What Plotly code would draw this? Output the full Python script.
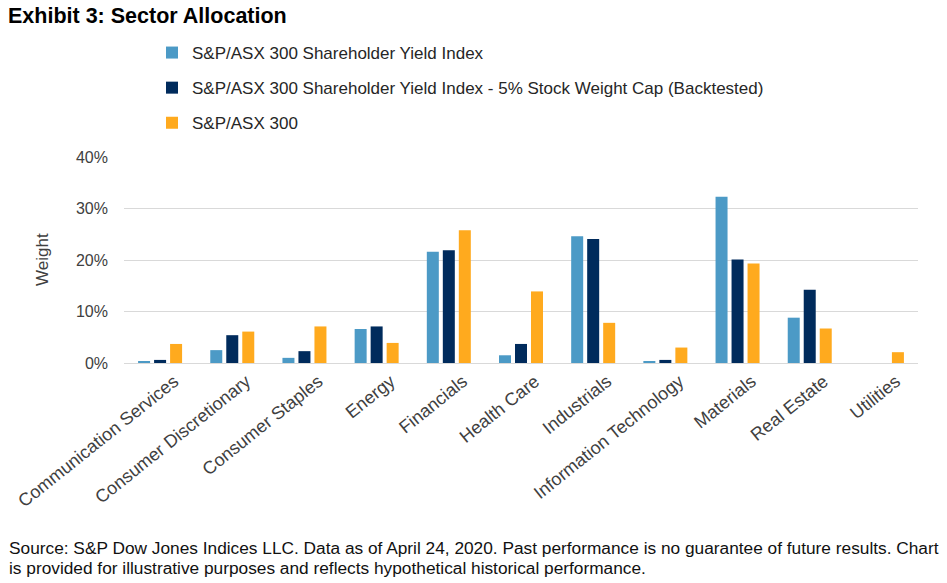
import plotly.graph_objects as go

categories = ["Communication Services", "Consumer Discretionary", "Consumer Staples",
              "Energy", "Financials", "Health Care", "Industrials",
              "Information Technology", "Materials", "Real Estate", "Utilities"]
shy_index = [0.3, 2.5, 1.0, 6.6, 21.6, 1.5, 24.6, 0.3, 32.3, 8.8, 0.0]
shy_capped = [0.6, 5.4, 2.3, 7.1, 21.9, 3.7, 24.1, 0.6, 20.1, 14.2, 0.0]
asx300 = [3.7, 6.1, 7.1, 3.9, 25.8, 13.9, 7.8, 3.0, 19.3, 6.7, 2.1]

series_names = ["S&P/ASX 300 Shareholder Yield Index",
                "S&P/ASX 300 Shareholder Yield Index - 5% Stock Weight Cap (Backtested)",
                "S&P/ASX 300"]
colors = ["#4C9AC6", "#002B5C", "#FFAA1E"]
y_ticks = [0, 10, 20, 30, 40]
y_tick_labels = ["0%", "10%", "20%", "30%", "40%"]

FONT = "Liberation Sans, Arial, sans-serif"
W, H = 947, 583
ML, MR, MT, MB = 124, 29, 157, 220
PW, PH = W - ML - MR, H - MT - MB

fig = go.Figure()
for i, (name, vals) in enumerate(zip(series_names, [shy_index, shy_capped, asx300])):
    fig.add_trace(go.Bar(x=categories, y=vals, name=name, marker_color=colors[i],
                         marker_line_width=0, legendgroup=f"g{i}"))

fig.update_layout(
    width=W, height=H,
    margin=dict(l=ML, r=MR, t=MT, b=MB, autoexpand=False),
    paper_bgcolor="white", plot_bgcolor="white",
    barmode="group", bargap=0.335, bargroupgap=0.25,
    font=dict(family=FONT, size=16, color="#404040"),
    title=dict(text="<b>Exhibit 3: Sector Allocation</b>", x=8 / W, xref="container", xanchor="left",
               y=1 - 15 / H, yref="container", yanchor="middle", pad=dict(l=0, r=0, t=0, b=0),
               font=dict(family=FONT, size=21.5, color="#000000")),
    showlegend=True,
    legend=dict(xref="container", yref="container", x=152 / W, y=1 - 35 / H,
                xanchor="left", yanchor="top", tracegroupgap=10,
                font=dict(family=FONT, size=17, color="#262626"),
                itemwidth=30, bgcolor="rgba(0,0,0,0)"),
    xaxis=dict(tickangle=-38.7, showgrid=False, showline=True, linecolor="#d9d9d9",
               ticks="", ticklabelshift=14, tickfont=dict(size=18, color="#404040")),
    yaxis=dict(range=[0, 40], tickvals=y_ticks, ticktext=y_tick_labels,
               showgrid=True, gridcolor="#d9d9d9", gridwidth=1, zeroline=False,
               ticks="", ticklabelstandoff=15, tickfont=dict(size=16, color="#404040")),
)

fig.add_annotation(text="Weight", xref="paper", yref="paper", x=(42 - ML) / PW,
                   y=0.5, textangle=-90, showarrow=False, xanchor="center", yanchor="middle",
                   font=dict(family=FONT, size=17, color="#404040"))
footer = ["Source: S&P Dow Jones Indices LLC. Data as of April 24, 2020. Past performance is no guarantee of future results. Chart",
          "is provided for illustrative purposes and reflects hypothetical historical performance."]
for k, line in enumerate(footer):
    fig.add_annotation(text=line, xref="paper", yref="paper",
                       x=(7 - ML) / PW, y=-(548 + 20 * k - (H - MB)) / PH,
                       xanchor="left", yanchor="middle", showarrow=False,
                       font=dict(family=FONT, size=17.3, color="#111111"))

fig.write_html("out.html", config={"displayModeBar": False},
               post_script="document.body.style.margin='0';document.body.style.overflow='hidden';")
